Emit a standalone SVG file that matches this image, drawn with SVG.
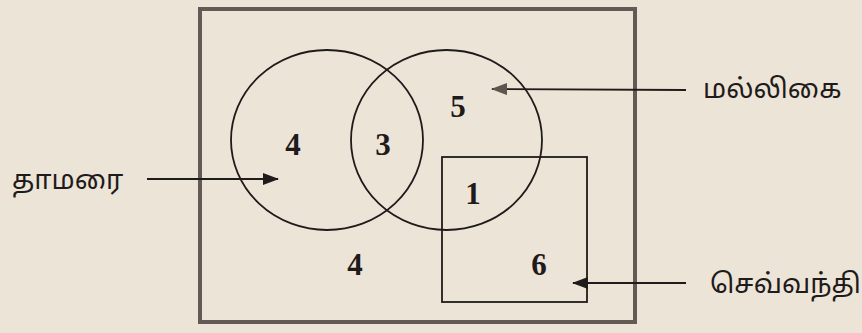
<svg xmlns="http://www.w3.org/2000/svg" width="862" height="333" viewBox="0 0 862 333">
<defs>
<style>
.bg{fill:#ede4d8}
.frame{fill:none;stroke:#645a55;stroke-width:4}
.set{fill:none;stroke:#1e1b1a;stroke-width:1.8}
.num{font-family:"Liberation Serif",serif;font-weight:bold;font-size:31px;fill:#1e1b1a;text-anchor:middle}
.lbl{font-family:"Noto Sans Tamil","Noto Sans","Liberation Sans",sans-serif;font-size:27px;fill:#1e1b1a}
.conn{stroke:#1e1b1a;stroke-width:1.8;fill:none}
</style>
<marker id="ah" markerWidth="16" markerHeight="12" refX="15" refY="6" orient="auto" markerUnits="userSpaceOnUse">
<path d="M0,0 L16,6 L0,12 Z" fill="#1e1b1a"/>
</marker>
<marker id="ahg" markerWidth="16" markerHeight="12" refX="15" refY="6" orient="auto" markerUnits="userSpaceOnUse">
<path d="M0,0 L16,6 L0,12 Z" fill="#5e5550"/>
</marker>
</defs>
<rect class="bg" x="0" y="0" width="862" height="333"/>
<g id="universe">
<rect class="frame" x="200" y="9" width="435" height="313"/>
<text class="num" x="355" y="275">4</text>
</g>
<g id="thamarai">
<ellipse class="set" cx="327" cy="140" rx="96" ry="90"/>
<text class="num" x="293" y="155">4</text>
<text class="lbl" x="12" y="189">தாமரை</text>
</g>
<g id="malligai">
<ellipse class="set" cx="446.5" cy="140" rx="95.5" ry="90"/>
<text class="num" x="383" y="155">3</text>
<text class="num" x="458" y="117">5</text>
<text class="num" x="473" y="204">1</text>
<text class="lbl" x="703" y="98">மல்லிகை</text>
</g>
<g id="sevvanthi">
<rect class="set" x="442" y="157" width="145" height="145"/>
<text class="num" x="539" y="275">6</text>
<text class="lbl" x="710" y="293">செவ்வந்தி</text>
</g>
<g id="connectors">
<line class="conn" x1="147" y1="179" x2="278" y2="179" marker-end="url(#ah)"/>
<line class="conn" x1="686" y1="90" x2="492" y2="89" stroke="#5e5550" marker-end="url(#ahg)"/>
<line class="conn" x1="686" y1="283" x2="573" y2="283" marker-end="url(#ah)"/>
</g>
</svg>
